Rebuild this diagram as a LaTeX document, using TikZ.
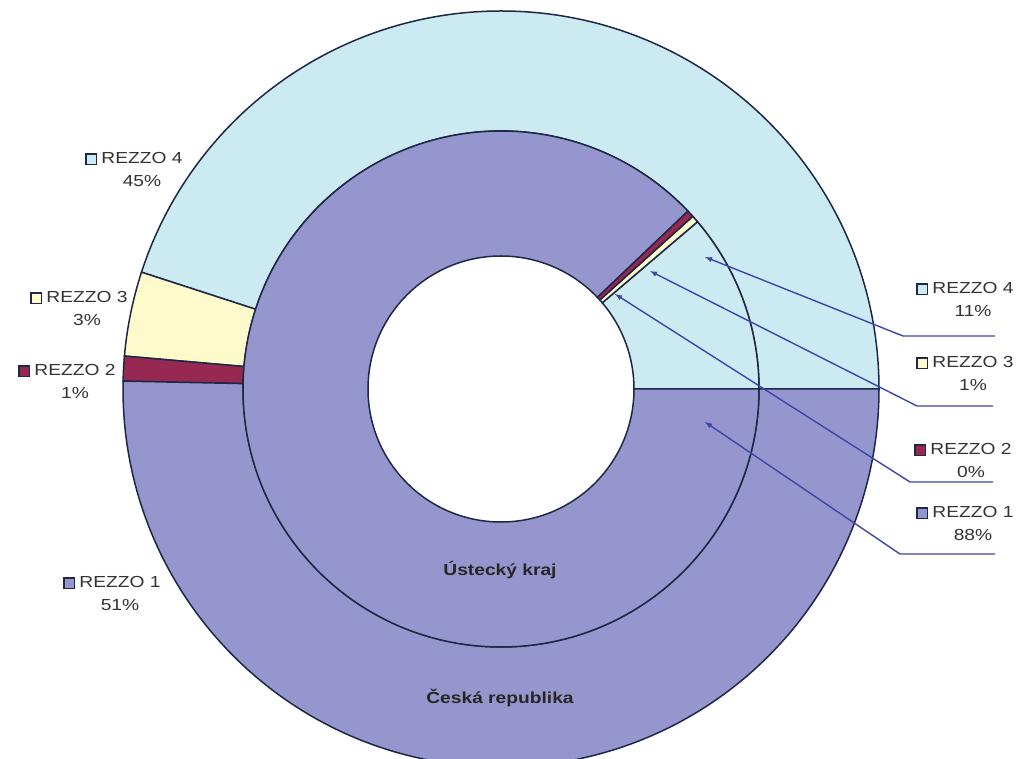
\documentclass[tikz,border=0pt]{standalone}
\usepackage{fontspec}
\newfontfamily\chartfont[FakeStretch=1.2]{Liberation Sans}
\usetikzlibrary{positioning, arrows}

\definecolor{rz1}{RGB}{150,150,206}
\definecolor{rz2}{RGB}{150,40,82}
\definecolor{rz3}{RGB}{255,250,204}
\definecolor{rz4}{RGB}{204,234,242}
\definecolor{segline}{RGB}{30,40,70}
\definecolor{leadcol}{RGB}{60,70,170}

% ring segment: colour, inner r, outer r, start, end
\newcommand{\ringseg}[5]{%
  \filldraw [seg, fill=#1] (#4:#3) arc [start angle=#4, end angle=#5, radius=#3]
  -- (#5:#2) arc [start angle=#5, end angle=#4, radius=#2] -- cycle;}
\newcommand{\keybox}[1]{{\setlength{\fboxsep}{0pt}\setlength{\fboxrule}{1.6pt}%
  \fcolorbox{segline}{#1}{\rule{0pt}{9pt}\rule{9pt}{0pt}}}}
\newcommand{\keyed}[2]{\llap{\raisebox{-0.8pt}{\keybox{#1}}\hspace{4pt}}#2}

\begin{document}
\begin{tikzpicture}[x=1pt, y=1pt,
    seg/.style={draw=segline, line width=1.5pt},
    lbl/.style={font=\chartfont\fontsize{16}{23}\selectfont, align=center,
      inner sep=0pt, text=black!80},
    ttl/.style={font=\chartfont\bfseries\fontsize{16}{19}\selectfont,
      inner sep=0pt, text=black!85},
    leader/.style={draw=leadcol, line width=1.4pt, -latex}]
  \useasboundingbox (-501,-370) rectangle (521,389);
  \fill [white] (-501,-370) rectangle (521,389);
  \clip (-501,-370) rectangle (521,389);

  % outer ring: Ceska republika
  \ringseg{rz4}{258}{378}{0}{162}
  \ringseg{rz3}{258}{378}{162}{175}
  \ringseg{rz2}{258}{378}{175}{178.8}
  \ringseg{rz1}{258}{378}{178.8}{360}

  % inner ring: Ustecky kraj
  \ringseg{rz4}{133}{258}{0}{40.4}
  \ringseg{rz3}{133}{258}{40.4}{42.0}
  \ringseg{rz2}{133}{258}{42.0}{43.6}
  \ringseg{rz1}{133}{258}{43.6}{360}

  % ring titles
  \node [ttl] (ust) at (-1,-181) {Ústecký kraj};
  \node [ttl, below=110pt of ust] (cr) {Česká republika};

  % left labels
  \node [lbl] (l4) at (-359,220) {\keyed{rz4}{REZZO 4}\\45\%};
  \node [lbl] (l3) at (-414,81) {\keyed{rz3}{REZZO 3}\\3\%};
  \node [lbl] (l2) at (-426,8) {\keyed{rz2}{REZZO 2}\\1\%};
  \node [lbl] (l1) at (-381,-204) {\keyed{rz1}{REZZO 1}\\51\%};

  % right labels
  \node [lbl] (r4) at (472,90) {\keyed{rz4}{REZZO 4}\\11\%};
  \node [lbl] (r3) at (472,16) {\keyed{rz3}{REZZO 3}\\1\%};
  \node [lbl] (r2) at (470,-71) {\keyed{rz2}{REZZO 2}\\0\%};
  \node [lbl] (r1) at (472,-134) {\keyed{rz1}{REZZO 1}\\88\%};

  % leaders
  \coordinate (a4) at (494,53);   \coordinate (b4) at (402,53);
  \coordinate (t4) at (204,132);
  \coordinate (a3) at (492,-17);  \coordinate (b3) at (416,-17);
  \coordinate (t3) at (149,118);
  \coordinate (a2) at (492,-93);  \coordinate (b2) at (409,-93);
  \coordinate (t2) at (114,95);
  \coordinate (a1) at (494,-165); \coordinate (b1) at (399,-165);
  \coordinate (t1) at (204,-33);
  \draw [leader] (a4) -- (b4) -- (t4);
  \draw [leader] (a3) -- (b3) -- (t3);
  \draw [leader] (a2) -- (b2) -- (t2);
  \draw [leader] (a1) -- (b1) -- (t1);
\end{tikzpicture}
\end{document}
